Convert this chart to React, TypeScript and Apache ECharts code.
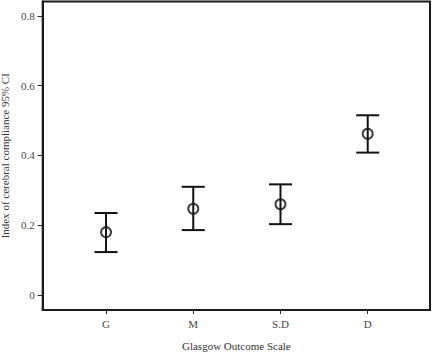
import React, { useEffect, useRef } from "react";
import * as echarts from "echarts";

const categories = ["G", "M", "S.D", "D"];
const positions = [1, 2, 3, 4];
const means = [0.18, 0.247, 0.26, 0.462];
const lower = [0.123, 0.186, 0.203, 0.408];
const upper = [0.235, 0.31, 0.317, 0.515];
const yTicks = [0, 0.2, 0.4, 0.6, 0.8];

export default function App() {
  const ref = useRef<HTMLDivElement>(null);
  useEffect(() => {
    if (!ref.current) return;
    const chart = echarts.init(ref.current, undefined, { renderer: "svg" });
    const font = "Liberation Serif";
    const barData = positions.map((p, i) => [p, lower[i], upper[i]]);
    const pointData = positions.map((p, i) => [p, means[i]]);
    chart.setOption({
      animation: false,
      backgroundColor: "#fff",
      textStyle: { fontFamily: font },
      grid: {
        left: 42.7,
        top: 1.5,
        right: 3,
        bottom: 42,
        containLabel: false,
        outerBoundsMode: "none",
        show: true,
        borderColor: "#1a1a1a",
        borderWidth: 2,
        backgroundColor: "transparent",
      },
      xAxis: {
        type: "value",
        min: 0.274,
        max: 4.714,
        name: "Glasgow Outcome Scale",
        nameLocation: "middle",
        nameGap: 30,
        nameTextStyle: { fontFamily: font, fontSize: 11, color: "#333" },
        splitLine: { show: false },
        axisLine: { show: true, onZero: false, lineStyle: { color: "#1a1a1a", width: 2 } },
        axisTick: {
          show: true,
          customValues: positions,
          length: 4,
          lineStyle: { color: "#222", width: 1 },
        },
        axisLabel: {
          customValues: positions,
          formatter: (v: number) => categories[positions.indexOf(Math.round(v))] ?? "",
          fontFamily: font,
          fontSize: 11,
          color: "#444",
          margin: 8,
        },
      },
      yAxis: {
        type: "value",
        min: -0.043,
        max: 0.841,
        name: "Index of cerebral compliance 95% CI",
        nameLocation: "middle",
        nameGap: 31,
        nameTextStyle: { fontFamily: font, fontSize: 11, color: "#333" },
        splitLine: { show: false },
        axisLine: { show: true, onZero: false, lineStyle: { color: "#1a1a1a", width: 2 } },
        axisTick: {
          show: true,
          customValues: yTicks,
          length: 5,
          lineStyle: { color: "#222", width: 1 },
        },
        axisLabel: {
          customValues: yTicks,
          formatter: (v: number) => (Math.abs(v) < 1e-9 ? "0" : String(Math.round(v * 10) / 10)),
          fontFamily: font,
          fontSize: 11,
          color: "#444",
          margin: 8,
        },
      },
      series: [
        {
          type: "custom",
          data: barData,
          encode: { x: 0, y: [1, 2] },
          renderItem: (params: any, api: any) => {
            const x = api.value(0);
            const lo = api.coord([x, api.value(1)]);
            const hi = api.coord([x, api.value(2)]);
            const hw = 11.5;
            const style = { stroke: "#111", lineWidth: 2, fill: "none" };
            return {
              type: "group",
              children: [
                { type: "line", shape: { x1: lo[0], y1: lo[1], x2: hi[0], y2: hi[1] }, style },
                { type: "line", shape: { x1: lo[0] - hw, y1: lo[1], x2: lo[0] + hw, y2: lo[1] }, style },
                { type: "line", shape: { x1: hi[0] - hw, y1: hi[1], x2: hi[0] + hw, y2: hi[1] }, style },
              ],
            };
          },
          z: 2,
        },
        {
          type: "scatter",
          data: pointData,
          symbol: "circle",
          symbolSize: 10,
          itemStyle: { color: "rgba(0,0,0,0)", borderColor: "#111", borderWidth: 2 },
          z: 3,
        },
      ],
    });
    return () => chart.dispose();
  }, []);
  return <div ref={ref} style={{ width: 433, height: 352, position: "absolute", left: 0, top: 0 }} />;
}
